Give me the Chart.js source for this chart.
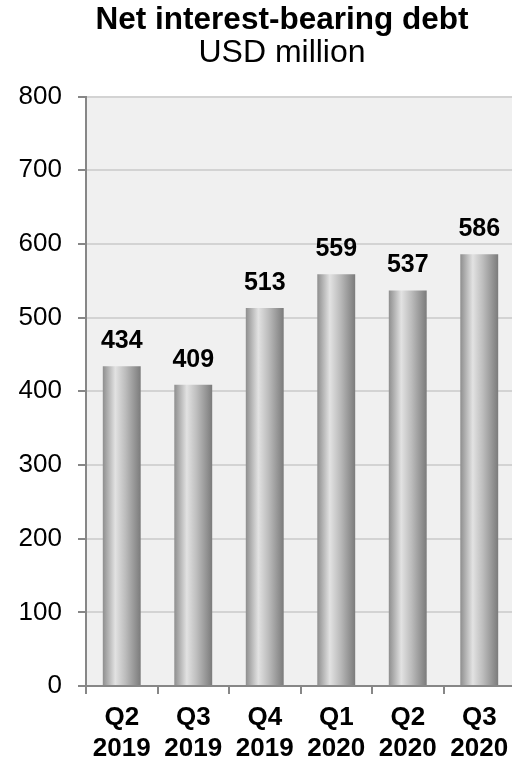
<!DOCTYPE html>
<html>
<head>
<meta charset="utf-8">
<script src="https://cdn.jsdelivr.net/npm/chart.js@4.4.1/dist/chart.umd.min.js"></script>
<style>
  html, body { margin: 0; padding: 0; background: #fff; overflow: hidden; }
  #wrap { width: 564px; height: 764px; }
</style>
</head>
<body>
<div id="wrap"><canvas id="debtChart"></canvas></div>
<script>
const quarters = [['Q2', '2019'], ['Q3', '2019'], ['Q4', '2019'], ['Q1', '2020'], ['Q2', '2020'], ['Q3', '2020']];
const debtValues = [434, 409, 513, 559, 537, 586];
const yTicks = [0, 100, 200, 300, 400, 500, 600, 700, 800];

const axisGrey = '#878787';
const fontFamily = '"Liberation Sans", Arial, sans-serif';

// light grey plot background
const plotBackground = {
  id: 'plotBackground',
  beforeDraw: (chart) => {
    const { ctx, chartArea } = chart;
    ctx.save();
    ctx.fillStyle = '#f0f0f0';
    ctx.fillRect(chartArea.left, chartArea.top, chartArea.right - chartArea.left, chartArea.bottom - chartArea.top);
    ctx.restore();
  }
};

// value labels above the bars
const valueLabels = {
  id: 'valueLabels',
  afterDatasetsDraw: (chart) => {
    const ctx = chart.ctx;
    const meta = chart.getDatasetMeta(0);
    ctx.save();
    ctx.font = 'bold 25px ' + fontFamily;
    ctx.fillStyle = '#000';
    ctx.textAlign = 'center';
    ctx.textBaseline = 'alphabetic';
    meta.data.forEach((bar, i) => {
      ctx.fillText(debtValues[i], bar.x, bar.y - 18);
    });
    ctx.restore();
  }
};

function barGradient(context) {
  const chart = context.chart;
  const xs = chart.scales.x;
  if (!xs || !chart.chartArea) return '#aaaaaa';
  const cx = xs.getPixelForValue(context.dataIndex);
  const half = (xs.width / quarters.length) * 0.53 / 2;
  const g = chart.ctx.createLinearGradient(cx - half, 0, cx + half, 0);
  g.addColorStop(0, '#8e8e8e');
  g.addColorStop(0.33, '#e2e2e2');
  g.addColorStop(0.6, '#bcbcbc');
  g.addColorStop(1, '#7b7b7b');
  return g;
}

new Chart(document.getElementById('debtChart'), {
  type: 'bar',
  data: {
    labels: quarters,
    datasets: [{
      data: debtValues,
      backgroundColor: barGradient,
      borderWidth: 0,
      categoryPercentage: 1,
      barPercentage: 0.53
    }]
  },
  options: {
    responsive: true,
    maintainAspectRatio: false,
    animation: false,
    layout: { padding: { top: 3, left: 0, right: 0, bottom: 0 } },
    plugins: {
      legend: { display: false },
      tooltip: { enabled: false },
      title: {
        display: true,
        text: 'Net interest-bearing debt',
        color: '#000',
        font: { family: fontFamily, size: 31.5, weight: 'bold', lineHeight: 1.1 },
        padding: { top: 0, bottom: 0 }
      },
      subtitle: {
        display: true,
        text: 'USD million',
        color: '#000',
        font: { family: fontFamily, size: 32, weight: 'normal', lineHeight: 1.0 },
        padding: { top: 0, bottom: 27 }
      }
    },
    scales: {
      x: {
        afterFit: (scale) => {
          scale.height = 78;
        },
        grid: { drawOnChartArea: false, color: axisGrey, tickLength: 8, lineWidth: 2 },
        border: { color: axisGrey, width: 2 },
        ticks: {
          color: '#000',
          padding: 8,
          maxRotation: 0,
          font: { family: fontFamily, size: 26, weight: 'bold', lineHeight: 1.19 }
        }
      },
      y: {
        min: 0,
        max: 800,
        afterBuildTicks: (scale) => {
          scale.ticks = yTicks.map(v => ({ value: v }));
        },
        afterFit: (scale) => {
          scale.width = 86;
        },
        grid: { color: '#d3d3d3', tickColor: axisGrey, tickLength: 8, lineWidth: 2 },
        border: { color: axisGrey, width: 2 },
        ticks: {
          color: '#000',
          padding: 16,
          font: { family: fontFamily, size: 26 }
        }
      },
      // empty right-hand strip past the window edge, keeps the title centred like the original
      spare: {
        position: 'right',
        min: 0,
        max: 800,
        grid: { display: false },
        border: { display: false },
        ticks: { display: false },
        afterFit: (scale) => {
          scale.width = 49;
        }
      }
    }
  },
  plugins: [plotBackground, valueLabels]
});
</script>
</body>
</html>
